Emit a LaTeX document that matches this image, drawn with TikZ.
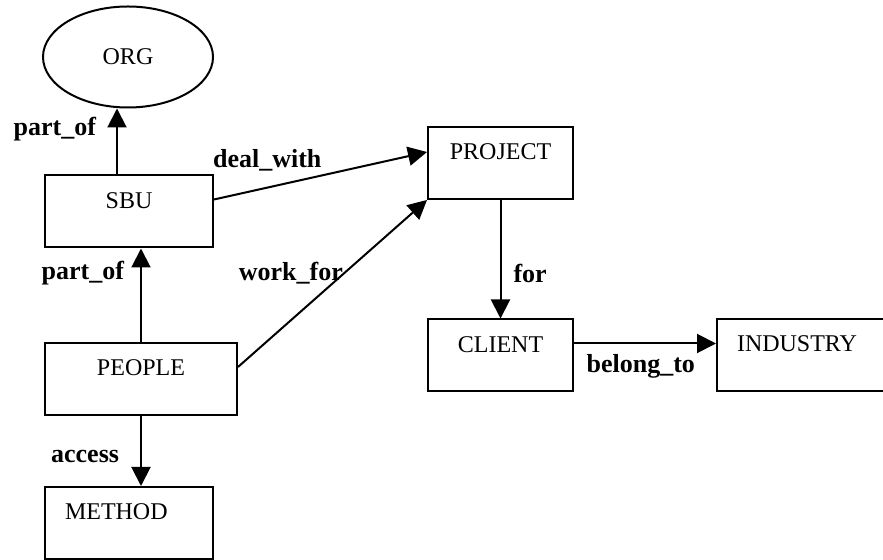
\documentclass[tikz,border=0pt]{standalone}
\usepackage{fontspec}
\setmainfont{Liberation Serif}
\usetikzlibrary{arrows.meta,positioning,shapes.geometric}

\begin{document}
\begin{tikzpicture}[
  x=0.5pt, y=-0.5pt,
  % Node styles
  ent/.style={draw, line width=1pt, inner xsep=0pt, inner ysep=0pt,
              text height=16.5pt, text depth=19.5pt, minimum height=36pt,
              font=\fontsize{12}{14}\selectfont, align=center},
  entl/.style={ent, inner xsep=10pt, align=left},
  org/.style={draw, ellipse, line width=1pt, inner sep=0pt, minimum width=85pt,
              minimum height=50.5pt, font=\fontsize{12}{14}\selectfont},
  % Arrow style
  rel/.style={-{Triangle[length=9.5pt, width=9.5pt]}, line width=1pt, black},
  % Label style
  lbl/.style={font=\fontsize{13}{15}\selectfont\bfseries, inner sep=0pt},
]
\useasboundingbox (0,0) rectangle (883,560);

% === Left column ===
\node[org] (ORG) at (128,57) {ORG};
\node[ent, minimum width=84pt] (SBU) at (129,211.5) {SBU};
\node[ent, minimum width=96pt] (PEOPLE) at (141,379) {PEOPLE};
\node[entl, text width=64pt] (METHOD) at (129,523) {METHOD};

% === Right part ===
\node[ent, minimum width=72.5pt] (PROJECT) at (500.5,163) {PROJECT};
\node[ent, minimum width=72.5pt] (CLIENT) at (500.5,355.5) {CLIENT};
\node[entl, text width=65pt] (INDUSTRY) at (802,355) {INDUSTRY};

% === Relations ===
\draw[rel] ([xshift=-6pt]SBU.north) -- node[lbl, left=10pt, pos=0.69] (l1) {part\_of} ([xshift=-6pt]SBU.north |- ORG.south);
\draw[rel] (PEOPLE.north) -- node[lbl, left=8pt, pos=0.74] (l2) {part\_of} (PEOPLE.north |- SBU.south);
\draw[rel] (PEOPLE.south) -- node[lbl, left=10.5pt, pos=0.58] (l3) {access} (PEOPLE.south |- METHOD.north);
\draw[rel] ([yshift=6pt]SBU.east) -- node[lbl, above=8pt, pos=0.25] (l4) {deal\_with} ([yshift=5.5pt]PROJECT.west);
\draw[rel] ([yshift=6pt]PEOPLE.east) -- node[lbl, left=0pt, pos=0.56] (l5) {work\_for} (PROJECT.south west);
\draw[rel] (PROJECT.south) -- node[lbl, right=6pt, pos=0.62] (l6) {for} (CLIENT.north);
\draw[rel] ([yshift=6pt]CLIENT.east) -- node[lbl, below=5pt, pos=0.47] (l7) {belong\_to} ([yshift=6pt]CLIENT.east -| INDUSTRY.west);

\end{tikzpicture}
\end{document}
